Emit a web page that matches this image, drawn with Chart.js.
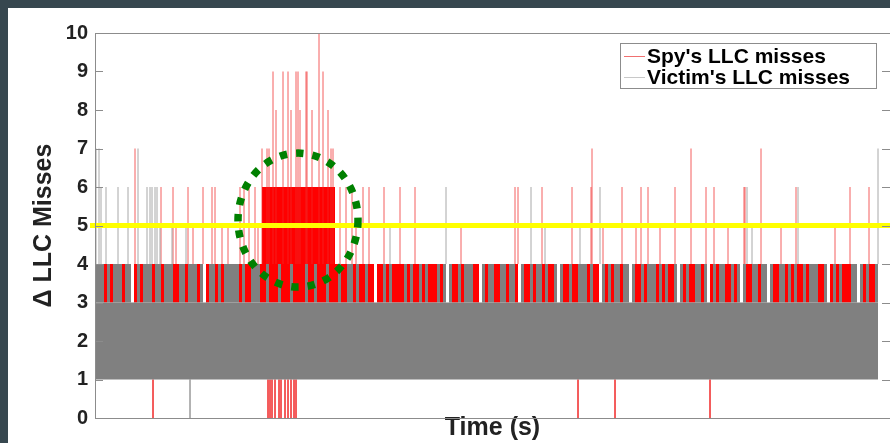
<!DOCTYPE html>
<html>
<head>
<meta charset="utf-8">
<script src="https://cdn.jsdelivr.net/npm/chart.js@4.4.0/dist/chart.umd.min.js"></script>
<style>
html, body { margin: 0; padding: 0; background: #37474f; overflow: hidden; }
#wrap { position: absolute; left: 8px; top: 8px; width: 882px; height: 435px; background: #fff; }
</style>
</head>
<body>
<div id="wrap"><canvas id="missesChart"></canvas></div>
<script>
// Axis ranges (time in samples, no labels on the x axis)
const timeRange = [0, 795];
const yTicks = [0, 1, 2, 3, 4, 5, 6, 7, 8, 9, 10];

// Victim's dense band (always between 1 and 3)
const victimBaseSpan = [0, 783];
const victimBaseLevels = [1, 3];

// Spy's dense burst (between 4 and 6) inside the circled window
const spyBurstSpan = [167, 240];
const spyBurstLevels = [4, 6];

// What fills the 3..4 row, one letter per 3 samples: r = spy, g = victim, w = none
const stripeStep = 3;
const band34 =
    'gggrgrgggrggwrgrgggrggrgggrrggrgggrgwrggrgrgggggrgrrggg' +
    'rrgrrrgrrrgrrrrgrrgrrrgrr' +
    'rgrrggrgrrgrrwrrgrgrrrrgrgrrgr' +
    'grrrgrgwgrrgrgggrrwgrggrrggrggrwgrrgrggrgrrgwgrrgrrgggrgrrwgrgrggrggwgrrgrgggrgrgrrgwgrgrrggrgwrgrggrrgrgwgrrggrggwgrrggrgrgrrgrgggrrgwrgrgrrrggwgrgrrg';

// Spy spikes above the 3..4 row: [time, value]
const spyUp = [
    [40, 7], [66, 6], [78, 6], [81, 5], [93, 6], [98, 5], [108, 6], [117, 6], [120, 6], [127, 5],
    [133, 5], [145, 6], [149, 6], [154, 6], [160, 6], [163, 5], [167, 7], [172, 7], [174, 7], [178, 9],
    [181, 8], [188, 9], [193, 9], [196, 8], [201, 9], [203, 9], [205, 8], [211, 9], [212, 9], [217, 8],
    [224, 10], [228, 9], [233, 8], [236, 7], [238, 7], [245, 6], [251, 6], [257, 6], [261, 5], [268, 6],
    [274, 6], [289, 6], [305, 6], [320, 6], [366, 5], [420, 6], [423, 6], [447, 6], [477, 6], [496, 6],
    [497, 7], [508, 5], [527, 6], [541, 5], [546, 6], [553, 6], [565, 5], [580, 6], [596, 7], [611, 6],
    [619, 6], [633, 5], [649, 6], [650, 6], [666, 7], [686, 5], [701, 6], [740, 5], [755, 6], [774, 6]
];
// Spy samples that dropped to 0
const spyZero = [58, 173, 175, 177, 180, 184, 186, 190, 193, 196, 199, 201, 483, 520, 615];

// Victim spikes above the 3..4 row: [time, value]
const victimUp = [
    [1, 7], [4, 7], [6, 6], [11, 6], [23, 6], [33, 6], [43, 7], [52, 6], [55, 6], [57, 6],
    [60, 6], [62, 6], [65, 5], [77, 5], [91, 5], [295, 5], [351, 6], [436, 6], [450, 5], [485, 5],
    [505, 6], [652, 6], [657, 5], [703, 6], [783, 7]
];
const victimZero = [95];

// Threshold and the highlighted window
const threshold = 5;
const circleMark = { t: 203, y: 5.14, rt: 60, ry: 1.74 };

const seriesNames = ["Spy's LLC misses", "Victim's LLC misses"];
const seriesColors = ['#ff0000', '#808080'];
const legendLineColors = ['#f07070', '#c8c8c8'];

function stripes(code) {
    const pts = [];
    band34.split('').forEach((c, i) => {
        if (c !== code) return;
        const t = i * stripeStep + stripeStep / 2;
        pts.push({x: t, y: 3}, {x: t, y: 4}, {x: t, y: null});
    });
    return pts;
}

function spikes(list, from) {
    const pts = [];
    list.forEach(([t, top]) => pts.push({x: t, y: from}, {x: t, y: top}, {x: t, y: null}));
    return pts;
}

function zeroDrops(list) {
    const pts = [];
    list.forEach(t => pts.push({x: t, y: 1}, {x: t, y: 0}, {x: t, y: null}));
    return pts;
}

const lineBase = {
    pointRadius: 0,
    spanGaps: false,
    fill: false,
    borderCapStyle: 'butt',
    tension: 0
};

const frameAndTicks = {
    id: 'frameAndTicks',
    afterDatasetsDraw(chart) {
        const {ctx, chartArea: a, scales: {y}} = chart;
        ctx.save();
        ctx.strokeStyle = '#8c8c8c';
        ctx.lineWidth = 1;
        ctx.strokeRect(a.left + 0.5, a.top + 0.5, a.right - a.left, a.bottom - a.top);
        yTicks.forEach(v => {
            const py = Math.round(y.getPixelForValue(v)) + 0.5;
            ctx.beginPath();
            ctx.moveTo(a.left, py);
            ctx.lineTo(a.left + 8, py);
            ctx.moveTo(a.right - 8, py);
            ctx.lineTo(a.right, py);
            ctx.stroke();
        });
        ctx.restore();
    }
};

const circleMarker = {
    id: 'circleMarker',
    afterDatasetsDraw(chart) {
        const {ctx, scales: {x, y}} = chart;
        const cx = x.getPixelForValue(circleMark.t);
        const cy = y.getPixelForValue(circleMark.y);
        const rx = x.getPixelForValue(circleMark.t + circleMark.rt) - cx;
        const ry = cy - y.getPixelForValue(circleMark.y + circleMark.ry);
        ctx.save();
        ctx.strokeStyle = '#008000';
        ctx.lineWidth = 7.5;
        ctx.setLineDash([7.5, 9]);
        ctx.beginPath();
        ctx.ellipse(cx, cy, rx, ry, 0, 0, Math.PI * 2);
        ctx.stroke();
        ctx.restore();
    }
};

const boxLegend = {
    id: 'boxLegend',
    afterDraw(chart) {
        const {ctx, chartArea: a} = chart;
        const right = a.right - 13, top = a.top + 10;
        const w = 257, h = 46;
        ctx.save();
        ctx.fillStyle = '#fff';
        ctx.fillRect(right - w, top, w, h);
        ctx.strokeStyle = '#8c8c8c';
        ctx.lineWidth = 1;
        ctx.strokeRect(right - w + 0.5, top + 0.5, w - 1, h - 1);
        ctx.font = 'bold 21px "Liberation Sans", Arial, sans-serif';
        ctx.textBaseline = 'middle';
        ctx.fillStyle = '#000';
        seriesNames.forEach((name, i) => {
            const ly = top + 13 + i * 21;
            ctx.strokeStyle = legendLineColors[i];
            ctx.beginPath();
            ctx.moveTo(right - w + 4, ly + 0.5);
            ctx.lineTo(right - w + 25, ly + 0.5);
            ctx.stroke();
            ctx.fillText(name, right - w + 27, ly + 1);
        });
        ctx.restore();
    }
};

const ctx = document.getElementById('missesChart').getContext('2d');

new Chart(ctx, {
    type: 'line',
    data: {
        datasets: [
            {   // threshold line
                ...lineBase,
                data: [{x: timeRange[0] - 5, y: threshold}, {x: timeRange[1], y: threshold}],
                borderColor: '#ffff00',
                borderWidth: 5,
                clip: false
            },
            {   // victim base band
                ...lineBase,
                data: [{x: victimBaseSpan[0], y: victimBaseLevels[1]}, {x: victimBaseSpan[1], y: victimBaseLevels[1]}],
                borderWidth: 0,
                borderColor: seriesColors[1],
                backgroundColor: seriesColors[1],
                fill: {value: victimBaseLevels[0]}
            },
            {
                ...lineBase,
                data: stripes('g'),
                borderColor: seriesColors[1],
                borderWidth: 3
            },
            {
                ...lineBase,
                data: spikes(victimUp, 4).concat(zeroDrops(victimZero)),
                borderColor: '#a8a8a8',
                borderWidth: 1
            },
            {
                ...lineBase,
                data: stripes('r'),
                borderColor: seriesColors[0],
                borderWidth: 3
            },
            {
                ...lineBase,
                data: spikes(spyUp, 4).concat(zeroDrops(spyZero)),
                borderColor: 'rgba(240,40,40,0.75)',
                borderWidth: 1
            },
            {   // spy burst block
                ...lineBase,
                data: [{x: spyBurstSpan[0], y: spyBurstLevels[1]}, {x: spyBurstSpan[1], y: spyBurstLevels[1]}],
                borderWidth: 0,
                borderColor: seriesColors[0],
                backgroundColor: seriesColors[0],
                fill: {value: spyBurstLevels[0]}
            }
        ]
    },
    options: {
        responsive: true,
        maintainAspectRatio: false,
        animation: false,
        devicePixelRatio: 1,
        events: [],
        layout: {
            padding: {top: 25, right: 0, bottom: 0, left: 0}
        },
        scales: {
            x: {
                type: 'linear',
                min: timeRange[0],
                max: timeRange[1],
                grid: {display: false},
                border: {display: false},
                ticks: {display: false},
                afterFit(scale) { scale.height = 25; },
                title: {
                    display: true,
                    text: 'Time (s)',
                    color: '#222',
                    font: {family: '"Liberation Sans", Arial, sans-serif', size: 25, weight: 'bold'},
                    padding: {top: 0, bottom: 0}
                }
            },
            y: {
                min: 0,
                max: 10,
                grid: {display: false, drawTicks: false},
                border: {display: false},
                afterFit(scale) { scale.width = 87; },
                afterBuildTicks(scale) { scale.ticks = yTicks.map(v => ({value: v})); },
                ticks: {
                    padding: 7,
                    color: '#222',
                    font: {family: '"Liberation Sans", Arial, sans-serif', size: 20, weight: 'bold'}
                },
                title: {
                    display: true,
                    text: 'Δ LLC Misses',
                    color: '#222',
                    font: {family: '"Liberation Sans", Arial, sans-serif', size: 25, weight: 'bold'},
                    padding: {top: 21, bottom: 0}
                }
            }
        },
        plugins: {
            legend: {display: false},
            tooltip: {enabled: false}
        }
    },
    plugins: [frameAndTicks, circleMarker, boxLegend]
});
</script>
</body>
</html>
